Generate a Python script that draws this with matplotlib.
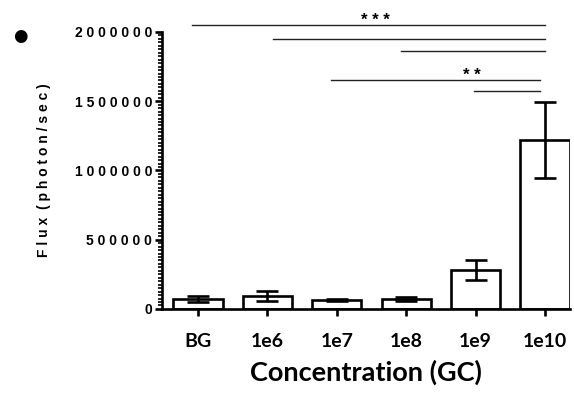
import numpy as np
import matplotlib.pyplot as plt
from matplotlib.ticker import FuncFormatter, MultipleLocator, AutoMinorLocator

# data
groups = ["BG", "1e6", "1e7", "1e8", "1e9", "1e10"]
flux_mean = [72000, 94000, 65000, 74000, 282000, 1220000]
flux_err = [20000, 37000, 5000, 15000, 72000, 272000]

# significance brackets: (start, end, height, label)
sig_start = [-0.09, 1.08, 2.93, 1.92, 3.98]
sig_end = [5.0, 5.0, 5.0, 4.93, 4.93]
sig_height = [2050000, 1949000, 1863000, 1653000, 1574000]
sig_label = ["***", "", "", "**", ""]
sig_label_x = [2.55, 0, 0, 3.95, 0]

lw = 1.9

def spaced(s):
    return " ".join(s)

fig = plt.figure(figsize=(5.74, 3.95), dpi=100)
ax = fig.add_axes([0.282, 0.218, 0.711, 0.701])

x = np.arange(len(groups))
ax.bar(x, flux_mean, width=0.71, color="white", edgecolor="black", linewidth=lw, zorder=2)
ax.errorbar(x, flux_mean, yerr=flux_err, fmt="none", ecolor="black",
            elinewidth=lw, capsize=8, capthick=lw, zorder=3)

ax.set_xlim(-0.52, 5.36)
ax.set_ylim(0, 2000000)

for sp in ["top", "right"]:
    ax.spines[sp].set_visible(False)
for sp in ["left", "bottom"]:
    ax.spines[sp].set_linewidth(lw)

ax.yaxis.set_major_locator(MultipleLocator(500000))
ax.yaxis.set_minor_locator(AutoMinorLocator(20))
ax.yaxis.set_major_formatter(FuncFormatter(lambda v, p: spaced("%d" % v)))
ax.tick_params(axis="y", which="major", length=5, width=lw, labelsize=10, pad=2)
ax.tick_params(axis="y", which="minor", length=3, width=1.2)
ax.tick_params(axis="y", labelfontfamily="Liberation Sans")
plt.setp(ax.get_yticklabels(), fontweight="heavy")

ax.set_xticks(x)
ax.set_xticklabels(groups, fontfamily="Lato", fontweight="bold", fontsize=14)
ax.tick_params(axis="x", length=5, width=lw, pad=12)

ax.set_ylabel(spaced("Flux (photon/sec)").replace("   ", "  "), fontfamily="Liberation Sans",
              fontweight="bold", fontsize=10, labelpad=17)
ax.set_xlabel("Concentration (GC)", fontfamily="Lato", fontweight="bold", fontsize=19.5, labelpad=7)

for s, e, h, lab, lx in zip(sig_start, sig_end, sig_height, sig_label, sig_label_x):
    ax.plot([s, e], [h, h], color="#222222", linewidth=1.0, clip_on=False, zorder=1)
    if lab:
        ax.text(lx, h - 22000, spaced(lab), ha="center", va="bottom", fontsize=12,
                fontweight="bold", fontfamily="Liberation Sans", clip_on=False)

fig.text(0.035, 0.91, "\u25CF", fontsize=12, ha="center", va="center")

fig.savefig("out.png", dpi=100, facecolor="white")
